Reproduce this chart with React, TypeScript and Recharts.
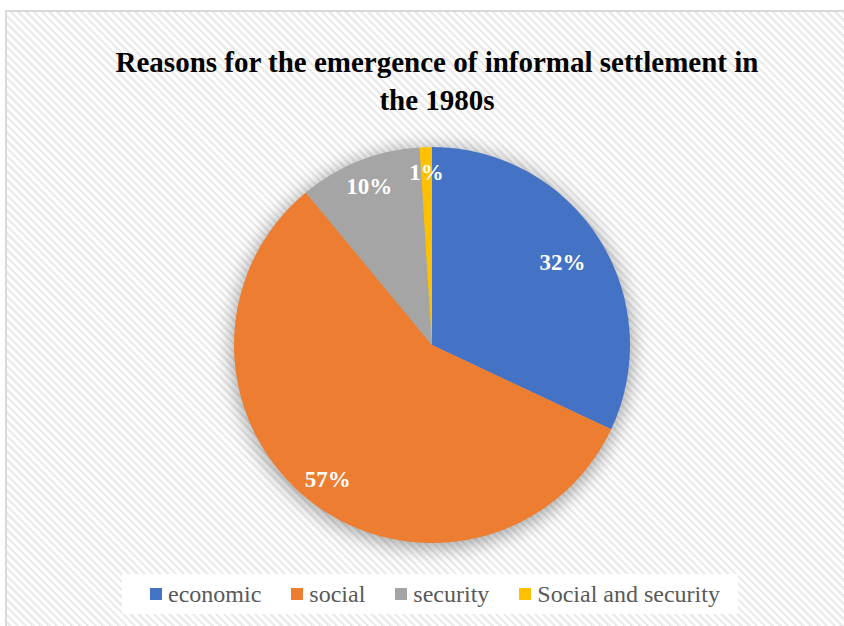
import React from "react";
import { PieChart, Pie, Cell, Legend } from "recharts";

const categories = ["economic", "social", "security", "Social and security"];
const values = [32, 57, 10, 1];
const labels = ["32%", "57%", "10%", "1%"];
const colors = ["#4472C4", "#ED7D31", "#A5A5A5", "#FFC000"];
const labelRadius = [0.78, 0.86, 0.86, 0.87];
const titleLines = ["Reasons for the emergence of informal settlement in", "the 1980s"];

const data = categories.map((name, i) => ({ name, value: values[i], label: labels[i] }));

const RAD = Math.PI / 180;
const SERIF = '"Liberation Serif", "Times New Roman", Times, serif';

const renderLabel = (props: any) => {
  const { cx, cy, midAngle, outerRadius, index } = props;
  const r = outerRadius * labelRadius[index];
  const x = cx + r * Math.cos(-midAngle * RAD);
  const y = cy + r * Math.sin(-midAngle * RAD);
  return (
    <text
      x={x}
      y={y}
      fill="#ffffff"
      textAnchor="middle"
      dominantBaseline="central"
      fontFamily={SERIF}
      fontWeight={700}
      fontSize={23}
    >
      {labels[index]}
    </text>
  );
};

const renderLegend = (props: any) => {
  const payload = (props.payload || [])
    .filter((p: any) => p.type !== "none" && categories.indexOf(p.value) >= 0)
    .slice()
    .sort((a: any, b: any) => categories.indexOf(a.value) - categories.indexOf(b.value));
  return (
    <div
      style={{
        display: "flex",
        alignItems: "center",
        justifyContent: "center",
        height: 40,
        background: "#ffffff",
        fontFamily: SERIF,
        fontSize: 24,
        color: "#595959",
        paddingLeft: 10,
        boxSizing: "border-box",
      }}
    >
      {payload.map((p: any, i: number) => (
        <div key={i} style={{ display: "flex", alignItems: "center", marginRight: i < payload.length - 1 ? 30 : 0 }}>
          <span style={{ display: "inline-block", width: 12, height: 12, background: p.color, marginRight: 6 }} />
          <span style={{ lineHeight: "40px" }}>{p.value}</span>
        </div>
      ))}
    </div>
  );
};

export default function App() {
  return (
    <div style={{ position: "absolute", left: 0, top: 0, width: 844, height: 626, background: "#ffffff", overflow: "hidden" }}>
      <style>{`.pie-shadow { filter: blur(7px); }`}</style>
      <div
        style={{
          position: "absolute",
          left: 5,
          top: 10,
          width: 860,
          height: 640,
          borderLeft: "2px solid #d9d9d9",
          borderTop: "2px solid #d9d9d9",
          background:
            "repeating-linear-gradient(45deg, #ffffff 0px, #ffffff 3px, #ebebeb 3px, #ebebeb 5.5px)",
        }}
      />
      <div
        style={{
          position: "absolute",
          left: 0,
          top: 43,
          width: 874,
          textAlign: "center",
          fontFamily: SERIF,
          fontWeight: 700,
          fontSize: 29,
          lineHeight: "38px",
          color: "#000000",
        }}
      >
        {titleLines.map((t, i) => (
          <div key={i}>{t}</div>
        ))}
      </div>
      <div style={{ position: "absolute", left: 0, top: 0 }}>
        <PieChart width={844} height={626} margin={{ top: 0, right: 0, bottom: 0, left: 0 }}>
          <Pie
            data={data}
            dataKey="value"
            nameKey="name"
            cx={432}
            cy={348}
            outerRadius={200}
            startAngle={90}
            endAngle={-270}
            stroke="none"
            fill="#000000"
            fillOpacity={0.35}
            className="pie-shadow"
            legendType="none"
            isAnimationActive={false}
            label={false}
            labelLine={false}
          />
          <Pie
            data={data}
            dataKey="value"
            nameKey="name"
            cx={432}
            cy={345}
            outerRadius={198}
            startAngle={90}
            endAngle={-270}
            stroke="none"
            isAnimationActive={false}
            label={renderLabel}
            labelLine={false}
          >
            {data.map((d, i) => (
              <Cell key={d.name} fill={colors[i]} />
            ))}
          </Pie>
          <Legend
            content={renderLegend}
            wrapperStyle={{ position: "absolute", left: 122, top: 574, width: 616, height: 40 }}
          />
        </PieChart>
      </div>
    </div>
  );
}
